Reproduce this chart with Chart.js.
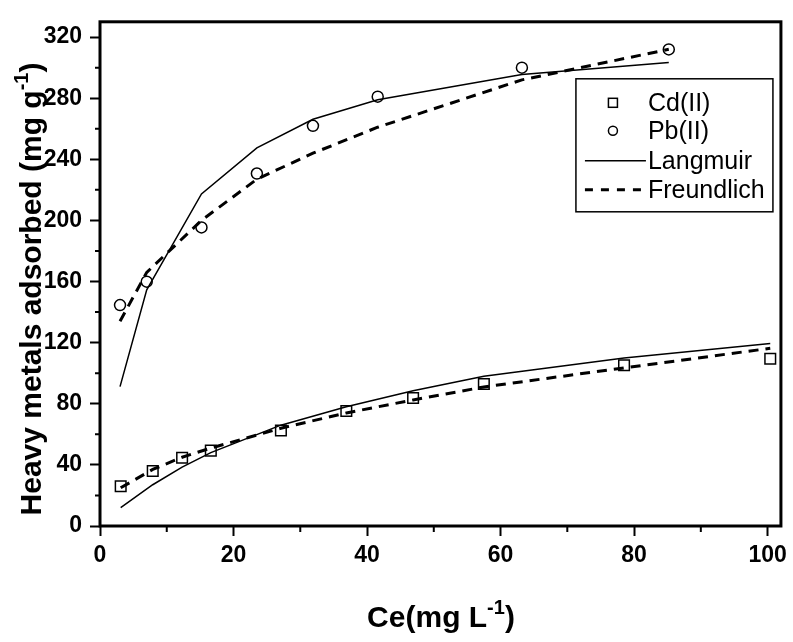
<!DOCTYPE html>
<html>
<head>
<meta charset="utf-8">
<script src="https://cdn.jsdelivr.net/npm/chart.js@4/dist/chart.umd.min.js"></script>
<style>
html,body{margin:0;padding:0;background:#fff;}
#wrap{width:793px;height:642px;position:relative;}
</style>
</head>
<body>
<div id="wrap"><canvas id="c"></canvas></div>
<script>
// ---- data ----
const cdCe = [3.1, 7.9, 12.3, 16.6, 27.1, 36.9, 46.9, 57.5, 78.5, 100.4];
const cdQe = [26, 36, 44.7, 49.3, 62.5, 75.3, 83.8, 92.9, 105.2, 109.5];
const cdLangmuir = [12, 27, 38.5, 48, 66, 78, 88.5, 98, 110, 119.5];
const cdFreundlich = [25, 37, 45, 51, 64, 74, 82.5, 91, 103.5, 116.3];

const pbCe = [3.0, 7.0, 15.2, 23.5, 31.9, 41.6, 63.2, 85.2];
const pbQe = [144.6, 159.9, 195.4, 230.7, 261.9, 281, 300, 311.9];
const pbLangmuir = [91.2, 154.6, 217.3, 247.5, 266.2, 279, 295.5, 303.4];
const pbFreundlich = [134, 166, 200, 227, 244, 261, 292, 312];

const xTicks = [0, 20, 40, 60, 80, 100];
const xMinorTicks = [10, 30, 50, 70, 90];
const yTicks = [0, 40, 80, 120, 160, 200, 240, 280, 320];
const yMinorTicks = [20, 60, 100, 140, 180, 220, 260, 300];

const legendLabels = ['Cd(II)', 'Pb(II)', 'Langmuir', 'Freundlich'];
const xTitle = ['Ce(mg L', '-1', ')'];
const yTitle = ['Heavy metals adsorbed (mg g', '-1', ')'];

const pts = (xs, ys) => xs.map((x, i) => ({x: x, y: ys[i]}));

const FONT = '"Liberation Sans", Arial, Helvetica, sans-serif';

const lineSolid = {showLine: true, pointRadius: 0, borderColor: '#000', borderWidth: 1.5, fill: false, tension: 0};
const lineDash = {showLine: true, pointRadius: 0, borderColor: '#000', borderWidth: 3, borderDash: [10, 7], fill: false, tension: 0};

const extras = {
  id: 'extras',
  afterDatasetsDraw(chart) {
    const ctx = chart.ctx;
    const a = chart.chartArea;
    const xs = chart.scales.x, ys = chart.scales.y;
    ctx.save();
    // frame
    ctx.strokeStyle = '#000';
    ctx.lineWidth = 3;
    ctx.strokeRect(a.left, a.top, a.right - a.left, a.bottom - a.top);
    // minor ticks
    ctx.lineWidth = 2;
    ctx.beginPath();
    xMinorTicks.forEach(v => {
      const px = xs.getPixelForValue(v);
      ctx.moveTo(px, a.bottom); ctx.lineTo(px, a.bottom + 6);
    });
    yMinorTicks.forEach(v => {
      const py = ys.getPixelForValue(v);
      ctx.moveTo(a.left, py); ctx.lineTo(a.left - 5, py);
    });
    ctx.stroke();

    // axis titles with superscripts
    const drawTitle = (parts, size) => {
      const main = 'bold ' + size + 'px ' + FONT;
      const sup = 'bold ' + Math.round(size * 0.65) + 'px ' + FONT;
      ctx.font = main; const w0 = ctx.measureText(parts[0]).width;
      ctx.font = sup; const w1 = ctx.measureText(parts[1]).width;
      ctx.font = main; const w2 = ctx.measureText(parts[2]).width;
      const total = w0 + w1 + w2;
      let x = -total / 2;
      ctx.textBaseline = 'alphabetic';
      ctx.textAlign = 'left';
      ctx.font = main; ctx.fillText(parts[0], x, 0); x += w0;
      ctx.font = sup; ctx.fillText(parts[1], x, -size * 0.45); x += w1;
      ctx.font = main; ctx.fillText(parts[2], x, 0);
    };
    ctx.fillStyle = '#000';
    ctx.save();
    ctx.translate(441, 627);
    drawTitle(xTitle, 30);
    ctx.restore();
    ctx.save();
    ctx.translate(41, 289);
    ctx.rotate(-Math.PI / 2);
    drawTitle(yTitle, 30);
    ctx.restore();

    // legend
    const lx = a.right - 205, ly = a.top + 57, lw = 197, lh = 133;
    ctx.lineWidth = 1.5;
    ctx.strokeStyle = '#000';
    ctx.strokeRect(lx, ly, lw, lh);
    const rows = [ly + 24, ly + 52, ly + 82, ly + 111];
    const mx = lx + 37, tx = lx + 72;
    ctx.font = '25px ' + FONT;
    ctx.textBaseline = 'middle';
    ctx.textAlign = 'left';
    legendLabels.forEach((t, i) => ctx.fillText(t, tx, rows[i] + 1));
    ctx.lineWidth = 1.5;
    ctx.strokeRect(mx - 4.5, rows[0] - 4.5, 9, 9);
    ctx.beginPath(); ctx.arc(mx, rows[1], 4.5, 0, Math.PI * 2); ctx.stroke();
    ctx.beginPath(); ctx.moveTo(lx + 9, rows[2]); ctx.lineTo(tx - 2, rows[2]); ctx.stroke();
    ctx.lineWidth = 3;
    ctx.setLineDash([8, 8]);
    ctx.beginPath(); ctx.moveTo(lx + 9, rows[3]); ctx.lineTo(tx - 4, rows[3]); ctx.stroke();
    ctx.setLineDash([]);
    ctx.restore();
  }
};

new Chart(document.getElementById('c'), {
  type: 'scatter',
  data: {
    datasets: [
      Object.assign({label: 'Cd Langmuir', data: pts(cdCe, cdLangmuir)}, lineSolid),
      Object.assign({label: 'Pb Langmuir', data: pts(pbCe, pbLangmuir)}, lineSolid),
      Object.assign({label: 'Cd Freundlich', data: pts(cdCe, cdFreundlich)}, lineDash),
      Object.assign({label: 'Pb Freundlich', data: pts(pbCe, pbFreundlich)}, lineDash),
      {label: legendLabels[0], data: pts(cdCe, cdQe), pointStyle: 'rect', pointRadius: 7.5,
       pointBorderWidth: 1.5, pointBackgroundColor: '#fff', pointBorderColor: '#000', showLine: false},
      {label: legendLabels[1], data: pts(pbCe, pbQe), pointStyle: 'circle', pointRadius: 5.5,
       pointBorderWidth: 1.5, pointBackgroundColor: '#fff', pointBorderColor: '#000', showLine: false}
    ]
  },
  options: {
    responsive: true,
    maintainAspectRatio: false,
    animation: false,
    layout: {padding: {top: 8, right: 12, left: 0, bottom: 0}},
    plugins: {legend: {display: false}, tooltip: {enabled: false}},
    scales: {
      x: {
        type: 'linear', min: 0, max: 102,
        afterBuildTicks: s => { s.ticks = xTicks.map(v => ({value: v})); },
        afterFit: s => { s.height = 116; },
        border: {display: false},
        grid: {drawOnChartArea: false, drawTicks: true, tickLength: 10, tickWidth: 2, color: '#000'},
        ticks: {color: '#000', padding: 6, maxRotation: 0, font: {family: FONT, size: 23, weight: 'bold'}}
      },
      y: {
        type: 'linear', min: 0, max: 330,
        afterBuildTicks: s => { s.ticks = yTicks.map(v => ({value: v})); },
        afterFit: s => { s.width = 100; },
        border: {display: false},
        grid: {drawOnChartArea: false, drawTicks: true, tickLength: 10, tickWidth: 2, color: '#000'},
        ticks: {color: '#000', padding: 8, font: {family: FONT, size: 23, weight: 'bold'}}
      }
    }
  },
  plugins: [extras]
});
</script>
</body>
</html>
